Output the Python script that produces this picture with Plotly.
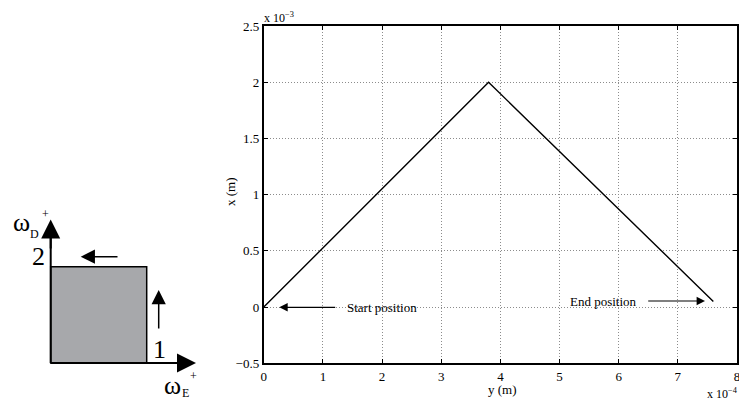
import plotly.graph_objects as go

# Data (metres)
y_pos = [0.0, 3.8e-4, 7.6e-4]      # horizontal axis: y (m)
x_pos = [0.0, 2.0e-3, 0.05e-3]     # vertical axis: x (m)
x_scale = 1e-4
y_scale = 1e-3
xtick_vals = [0, 1, 2, 3, 4, 5, 6, 7, 8]
xtick_text = ["0", "1", "2", "3", "4", "5", "6", "7", "8"]
ytick_vals = [-0.5, 0, 0.5, 1, 1.5, 2, 2.5]
ytick_text = ["\u22120.5", "0", "0.5", "1", "1.5", "2", "2.5"]

W, H = 739, 403
OFF = 0  # page body margin removed below
FONT = "Liberation Serif"

def px(v):
    return v - OFF

fig = go.Figure()
fig.add_trace(go.Scatter(
    x=[v / x_scale for v in y_pos], y=[v / y_scale for v in x_pos],
    mode="lines", line=dict(color="black", width=1.4),
    showlegend=False, hoverinfo="skip", xaxis="x", yaxis="y"))

# invisible pixel-space overlay trace for the left diagram
fig.add_trace(go.Scatter(x=[0, W], y=[0, H], mode="markers",
                         marker=dict(opacity=0), showlegend=False,
                         hoverinfo="skip", xaxis="x2", yaxis="y2"))

x0, x1 = px(263.8), px(737.0)
ytop, ybot = px(26.0), px(363.3)

axis_common = dict(showline=True, linecolor="black", linewidth=2, mirror="ticks",
                   ticks="inside", ticklen=4, tickcolor="black", automargin=False,
                   ticklabeloverflow="allow",
                   showgrid=True, gridcolor="#8c8c8c", griddash="1px,2px", gridwidth=1,
                   zeroline=False, tickfont=dict(family=FONT, size=13, color="black"))

fig.update_layout(
    width=W, height=H, margin=dict(l=0, r=0, t=0, b=0),
    paper_bgcolor="white", plot_bgcolor="rgba(0,0,0,0)",
    xaxis=dict(domain=[x0 / W, x1 / W], range=[0, 8], tickvals=xtick_vals,
               ticktext=xtick_text, anchor="y", **axis_common),
    yaxis=dict(domain=[(H - ybot) / H, (H - ytop) / H], range=[-0.5, 2.5],
               tickvals=ytick_vals, ticktext=ytick_text, anchor="x", **axis_common),
    xaxis2=dict(domain=[0, 1], range=[0, W], visible=False, anchor="y2",
                fixedrange=True, automargin=False),
    yaxis2=dict(domain=[0, 1], range=[H, 0], visible=False, anchor="x2",
                fixedrange=True, automargin=False),
)

shapes = []
# gray square
shapes.append(dict(type="rect", xref="x2", yref="y2", x0=px(50.7), x1=px(146.7),
                   y0=px(266.7), y1=px(363), fillcolor="#a7a8ab",
                   line=dict(color="black", width=1.5), layer="above"))
# axes lines
shapes.append(dict(type="line", xref="x2", yref="y2", x0=px(50.7), x1=px(50.7),
                   y0=px(363), y1=px(230), line=dict(color="black", width=2)))
shapes.append(dict(type="line", xref="x2", yref="y2", x0=px(50.7), x1=px(185),
                   y0=px(363), y1=px(363), line=dict(color="black", width=2)))
fig.update_layout(shapes=shapes)

ann = []
def arrow(xh, yh, xt, yt, size=1.3, width=1.5):
    ann.append(dict(x=px(xh), y=px(yh), ax=px(xt), ay=px(yt), xref="x2", yref="y2",
                    axref="x2", ayref="y2", text="",
                    showarrow=True, arrowhead=2, arrowsize=size, arrowwidth=width,
                    arrowcolor="black"))

# diagram arrows
arrow(50.7, 219.5, 50.7, 250, size=1.9, width=2)
arrow(196, 363, 170, 363, size=1.9, width=2)
arrow(158.7, 290, 158.7, 330, size=1.9, width=1.5)
arrow(80.7, 256.7, 119, 256.7, size=1.9, width=1.5)

def text(x, y, s, size=13, xanchor="center", **kw):
    ann.append(dict(x=px(x), y=px(y), xref="x2", yref="y2", text=s,
                    showarrow=False, xanchor=xanchor, yanchor="middle",
                    font=dict(family=FONT, size=size, color="black"), **kw))

text(38.5, 256, "2", size=26)
text(159, 349, "1", size=26)
text(21, 222, "\u03c9", size=26)
text(34.5, 233.5, "D", size=12)
text(45, 214, "+", size=12)
text(172.5, 385, "\u03c9", size=26)
text(185.5, 393, "E", size=12)
text(193, 375.5, "+", size=12)

# start / end annotations
arrow(279.3, 307.3, 336.7, 307.3, size=1.4, width=1.2)
text(345, 307.3, "Start position", xanchor="left")
arrow(705, 301, 646.7, 301, size=1.4, width=1.2)
text(639, 301, "End position", xanchor="right")

# axis titles and exponents
text(502, 389, "y (m)")
text(230, 192, "x (m)", textangle=-90)
text(262, 17, "x 10<sup>\u22123</sup>", size=12, xanchor="left")
text(705, 393, "x 10<sup>\u22124</sup>", size=12, xanchor="left")

fig.update_layout(annotations=ann)
fig.write_html("out.html", config={"displayModeBar": False},
               post_script="document.body.style.margin='0px';document.body.style.overflow='hidden';")
